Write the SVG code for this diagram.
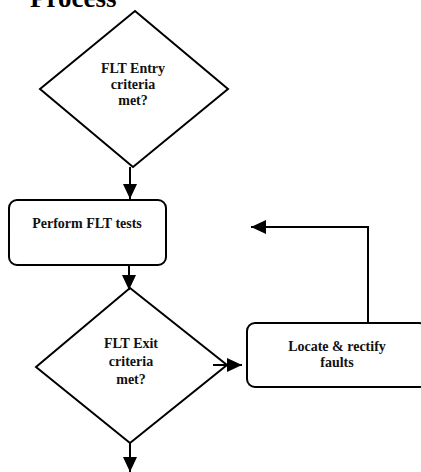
<svg xmlns="http://www.w3.org/2000/svg" width="421" height="472" viewBox="0 0 421 472">
<style>
.shape{fill:#fff;stroke:#000;stroke-width:2}
.lbl{font-family:"Liberation Serif","Times New Roman",serif;font-size:14px;font-weight:bold;fill:#111;text-anchor:middle}
.title{font-family:"Liberation Serif","Times New Roman",serif;font-size:27px;font-weight:bold;fill:#000}
.con{fill:none;stroke:#000;stroke-width:2}
</style>
<defs>
<marker id="ah" markerUnits="userSpaceOnUse" markerWidth="16" markerHeight="14" refX="15" refY="7" orient="auto">
<path d="M0,0 L15,7 L0,14 Z" fill="#000"/>
</marker>
</defs>
<rect width="421" height="472" fill="#fff"/>
<text class="title" x="30" y="7">Process</text>
<g id="entry">
<polygon class="shape" points="135,11 228,89 133,167 40,89"/>
<text class="lbl" x="133" y="73">FLT Entry</text>
<text class="lbl" x="133" y="89">criteria</text>
<text class="lbl" x="133" y="105">met?</text>
</g>
<g id="perform">
<rect class="shape" x="9" y="200" width="157" height="65" rx="8"/>
<text class="lbl" x="87" y="228">Perform FLT tests</text>
</g>
<g id="exit">
<polygon class="shape" points="130,288 227,365 130,443 36,367"/>
<text class="lbl" x="131" y="348">FLT Exit</text>
<text class="lbl" x="131" y="366">criteria</text>
<text class="lbl" x="131" y="384">met?</text>
</g>
<g id="locate">
<rect class="shape" x="247" y="323" width="180" height="64" rx="8"/>
<text class="lbl" x="337" y="351">Locate &amp; rectify</text>
<text class="lbl" x="337" y="367">faults</text>
</g>
<g id="connectors">
<line class="con" x1="130" y1="167" x2="130" y2="199" marker-end="url(#ah)"/>
<line class="con" x1="129" y1="265" x2="129" y2="290" marker-end="url(#ah)"/>
<line class="con" x1="213" y1="365" x2="242" y2="365" marker-end="url(#ah)"/>
<polyline class="con" points="368,323 368,227 251,227" marker-end="url(#ah)"/>
<line class="con" x1="130" y1="443" x2="130" y2="472" marker-end="url(#ah)"/>
</g>
</svg>
